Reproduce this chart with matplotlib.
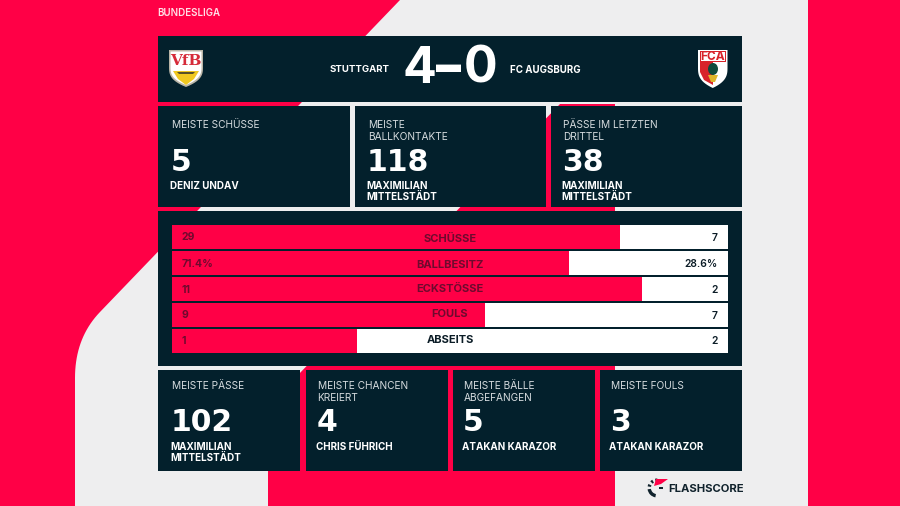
import numpy as np
import matplotlib
matplotlib.use('Agg')
import matplotlib.pyplot as plt
from matplotlib.patches import Polygon, Rectangle, Wedge, Ellipse

RED = '#ff0046'
DARK = '#03202c'
GREY = '#eeeeef'
WHITE = '#ffffff'
LABEL = '#d5dbde'
ON_RED = '#6e0a2e'
ON_WHITE = '#0b1c26'

stat_names = ['SCHÜSSE', 'BALLBESITZ', 'ECKSTÖSSE', 'FOULS', 'ABSEITS']
home_values = [29, 71.4, 11, 9, 1]
away_values = [7, 28.6, 2, 7, 2]
home_labels = ['29', '71.4%', '11', '9', '1']
away_labels = ['7', '28.6%', '2', '7', '2']

top_titles = ['MEISTE SCHÜSSE', 'MEISTE\nBALLKONTAKTE', 'PÄSSE IM LETZTEN\nDRITTEL']
top_numbers = ['5', '118', '38']
top_players = ['DENIZ UNDAV', 'MAXIMILIAN\nMITTELSTÄDT', 'MAXIMILIAN\nMITTELSTÄDT']

bottom_titles = ['MEISTE PÄSSE', 'MEISTE CHANCEN\nKREIERT', 'MEISTE BÄLLE\nABGEFANGEN', 'MEISTE FOULS']
bottom_numbers = ['102', '4', '5', '3']
bottom_players = ['MAXIMILIAN\nMITTELSTÄDT', 'CHRIS FÜHRICH', 'ATAKAN KARAZOR', 'ATAKAN KARAZOR']

plt.rcParams['font.family'] = ['Inter', 'DejaVu Sans']

fig = plt.figure(figsize=(9, 5.0601), dpi=100)
ax = fig.add_axes([0, 0, 1, 1], zorder=1)
ax.set_xlim(0, 900)
ax.set_ylim(506, 0)
ax.axis('off')

# text sits on its own layer above the bars
txt = fig.add_axes([0, 0, 1, 1], zorder=3)
txt.set_xlim(0, 900)
txt.set_ylim(506, 0)
txt.axis('off')


def box(x0, y0, x1, y1, color=DARK, z=3):
    ax.add_patch(Rectangle((x0, y0), x1 - x0, y1 - y0, fc=color, ec='none', zorder=z))


def shield(x0, x1, y0, y1, color, z=5):
    # flat top, sides curving in to a point at the bottom
    s = np.linspace(0, 1, 16)
    mid = (x0 + x1) / 2
    half = (x1 - x0) / 2
    right = [(mid + half * (1 - s_i ** 3), y0 + 0.45 * (y1 - y0) + 0.55 * (y1 - y0) * s_i) for s_i in s]
    left = [(2 * mid - px, py) for px, py in right[::-1]]
    ax.add_patch(Polygon([(x0, y0), (x1, y0)] + right + left, closed=True, fc=color, ec='none', zorder=z))


# background shapes
ax.add_patch(Rectangle((0, 0), 900, 506, fc=RED, ec='none', zorder=0))
t = np.linspace(0, 1, 20)
cx = (1 - t) ** 2 * 75 + 2 * t * (1 - t) * 75 + t ** 2 * 100
cy = (1 - t) ** 2 * 378 + 2 * t * (1 - t) * 338 + t ** 2 * 312
curve = list(zip(cx, cy))
ax.add_patch(Polygon([(400, 0), (808, 0), (808, 506), (75, 506)] + curve, closed=True,
                     fc=GREY, ec='none', zorder=1))
ax.add_patch(Polygon([(560, 104), (615, 104), (615, 506), (268, 506), (268, 406)], closed=True,
                     fc=RED, ec='none', zorder=2))

# panels
box(158, 36, 742, 102)
for x0, x1 in [(158, 350), (355, 546), (551, 742)]:
    box(x0, 106.5, x1, 207)
box(158, 211.5, 742, 366)
for x0, x1 in [(158, 300), (305.5, 448), (453, 595), (600, 742)]:
    box(x0, 370.5, x1, 471)

txt.text(157.5, 13, 'BUNDESLIGA', color='#ffdfe7', fontsize=7.0, fontweight='semibold', va='center')

# header
txt.text(389.5, 69.5, 'STUTTGART', color=WHITE, fontsize=6.9, fontweight='bold', va='center', ha='right')
txt.text(510, 69.5, 'FC AUGSBURG', color=WHITE, fontsize=7.0, fontweight='bold', va='center', ha='left')
txt.text(419, 69, '4', color=WHITE, fontsize=36, fontweight='bold', va='center', ha='center')
txt.text(449, 69, '–', color=WHITE, fontsize=36, fontweight='black', va='center', ha='center')
txt.text(480.5, 69, '0', color=WHITE, fontsize=36, fontweight='bold', va='center', ha='center')

# VfB crest
shield(169, 203, 50, 87, '#b9b4a6')
shield(170.5, 201.5, 51.5, 85, WHITE, z=6)
ax.add_patch(Polygon([(173, 71), (199, 71), (194, 79), (186, 85), (178, 79)], closed=True, fc='#f0c820', ec='none', zorder=7))
ax.add_patch(Polygon([(177, 72), (195, 72), (193, 74), (179, 74)], closed=True, fc='#57502a', ec='none', zorder=8))
txt.text(186, 61, 'VfB', color='#d62b3a', fontsize=11, fontweight='bold', family='DejaVu Serif', ha='center', va='center')

# Augsburg crest
shield(698, 727.5, 50, 88, WHITE)
ax.add_patch(Polygon([(700, 62), (713, 62), (713, 85), (704, 80), (700, 72)], closed=True, fc='#d8232a', ec='none', zorder=6))
box(699.5, 51.5, 726, 62, color='#d8232a', z=6)
box(700.5, 52.5, 725, 61, color=WHITE, z=7)
ax.add_patch(Ellipse((713, 69), 10, 12, fc='#0f4a3c', ec='none', zorder=8))
ax.add_patch(Polygon([(708, 75), (718, 75), (715, 82), (711, 82)], closed=True, fc='#dfb52a', ec='none', zorder=8))
txt.text(712.8, 56.8, 'FCA', color='#d8232a', fontsize=8.6, fontweight='bold', ha='center', va='center')


def card(x, title, number, player, title_y, number_y, player_y):
    txt.text(x, title_y, title, color=LABEL, fontsize=7.3, va='top', ha='left', linespacing=1.26)
    txt.text(x - 1, number_y, number, color=WHITE, fontsize=21.5, fontweight='bold', family='DejaVu Sans', va='center', ha='left')
    txt.text(x - 2, player_y, player, color=WHITE, fontsize=7.1, fontweight='bold', va='top', ha='left',
             linespacing=1.16)


for x, title, number, player in zip([172, 368, 563], top_titles, top_numbers, top_players):
    card(x, title, number, player, 120, 162, 181)
for x, title, number, player in zip([172, 317.5, 464, 611], bottom_titles, bottom_numbers, bottom_players):
    card(x, title, number, player, 381, 422.5, 442)

# comparison bars
bar_ax = fig.add_axes([172 / 900, 1 - 353.3 / 506, 556 / 900, 128.6 / 506], zorder=2)
bar_ax.set_xlim(0, 1)
rows = np.arange(len(stat_names))
home_share = np.array(home_values) / (np.array(home_values) + np.array(away_values))
bar_ax.barh(rows, home_share, height=0.918, color=RED)
bar_ax.barh(rows, 1 - home_share, left=home_share, height=0.918, color=WHITE)
bar_ax.set_ylim(len(stat_names) - 0.541, -0.459)
bar_ax.axis('off')

stat_y = [238.7, 264.7, 288.7, 313.7, 339.7]
left_y = [236.5, 263.5, 289.5, 315, 340.5]
right_y = [237.5, 263.5, 289.5, 315.5, 340.5]
for i, name in enumerate(stat_names):
    name_color = ON_WHITE if i == 4 else ON_RED
    txt.text(450, stat_y[i], name, color=name_color, fontsize=8.0, fontweight='bold', ha='center', va='center')
    txt.text(182, left_y[i], home_labels[i], color=ON_RED, fontsize=7.5, fontweight='bold', ha='left', va='center')
    txt.text(718, right_y[i], away_labels[i], color=ON_WHITE, fontsize=7.4, fontweight='semibold', ha='right', va='center')

# Flashscore mark
for a0, a1 in [(100, 172), (190, 205), (225, 240), (258, 272), (292, 306)]:
    ax.add_patch(Wedge((657, 488), 9.5, a0, a1, width=3.4, fc='#10222c', ec='none', zorder=5))
ax.add_patch(Polygon([(656, 479), (668, 479), (661, 484), (654, 486)], closed=True, fc=RED, ec='none', zorder=7))
ax.add_patch(Rectangle((659, 487.5), 4, 1.6, fc='#10222c', ec='none', zorder=7))
txt.text(668, 488.5, 'FLASHSCORE', color='#10222c', fontsize=8.1, fontweight='bold', ha='left', va='center')

plt.savefig('out.png', dpi=100)
